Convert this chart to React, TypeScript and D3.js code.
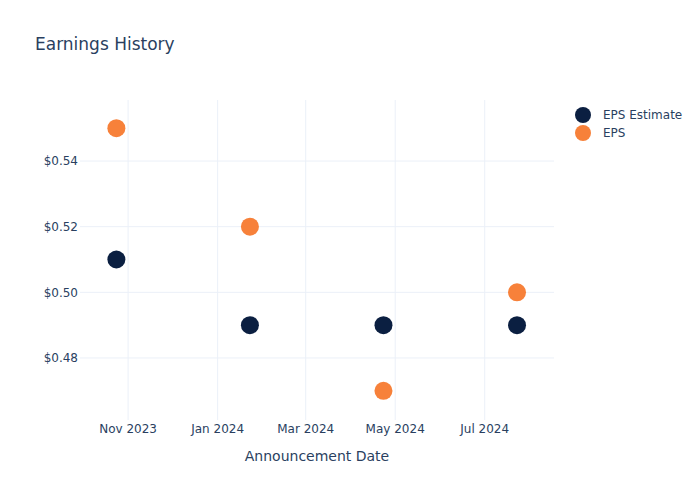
import React from "react";
import * as d3 from "d3";

const dates = ["2023-10-24", "2024-01-23", "2024-04-23", "2024-07-23"];
const epsEstimate = [0.51, 0.49, 0.49, 0.49];
const eps = [0.55, 0.52, 0.47, 0.50];
const yTicks = [0.48, 0.5, 0.52, 0.54];
const xTicks = ["2023-11-01", "2024-01-01", "2024-03-01", "2024-05-01", "2024-07-01"];
const seriesNames = ["EPS Estimate", "EPS"];
const colors = ["#0b1f41", "#f7813a"];

const W = 700, H = 500;
const L = 80, R = 554, T = 100, B = 420;
const parse = d3.utcParse("%Y-%m-%d");
const FONT = "'DejaVu Sans', sans-serif";
const TXT = "#2a3f5f";

export default function App() {
  const x = d3.scaleUtc()
    .domain([new Date(Date.UTC(2023, 8, 29, 5)), new Date(Date.UTC(2024, 7, 17, 5))])
    .range([L, R]);
  const y = d3.scaleLinear().domain([0.4611, 0.5586]).range([B, T]);
  const fmtX = d3.utcFormat("%b %Y");
  const fmtY = (v: number) => "$" + d3.format(".2f")(v);
  const series = [epsEstimate, eps];
  return (
    <svg width={W} height={H} style={{ position: "absolute", left: 0, top: 0, background: "#fff" }} fontFamily={FONT}>
      <text x={35} y={50} fontSize={17} fill={TXT}>Earnings History</text>
      {xTicks.map((t) => (
        <g key={t}>
          <line x1={x(parse(t)!)} x2={x(parse(t)!)} y1={T} y2={B} stroke="#ebf0f8" strokeWidth={1} />
          <text x={x(parse(t)!)} y={B + 13} fontSize={12} fill={TXT} textAnchor="middle">{fmtX(parse(t)!)}</text>
        </g>
      ))}
      {yTicks.map((t) => (
        <g key={t}>
          <line x1={L} x2={R} y1={y(t)} y2={y(t)} stroke="#ebf0f8" strokeWidth={1} />
          <text x={L - 2} y={y(t)} dy="0.35em" fontSize={12} fill={TXT} textAnchor="end">{fmtY(t)}</text>
        </g>
      ))}
      <text x={(L + R) / 2} y={461} fontSize={14} fill={TXT} textAnchor="middle">Announcement Date</text>
      {series.map((s, si) => (
        <g key={si}>
          {s.map((v, i) => (
            <circle key={i} cx={x(parse(dates[i])!)} cy={y(v)} r={9} fill={colors[si]} />
          ))}
        </g>
      ))}
      {seriesNames.map((n, i) => (
        <g key={n}>
          <circle cx={583} cy={115 + i * 18} r={8} fill={colors[i]} />
          <text x={603} y={115 + i * 18} dy="0.35em" fontSize={12} fill={TXT}>{n}</text>
        </g>
      ))}
    </svg>
  );
}
